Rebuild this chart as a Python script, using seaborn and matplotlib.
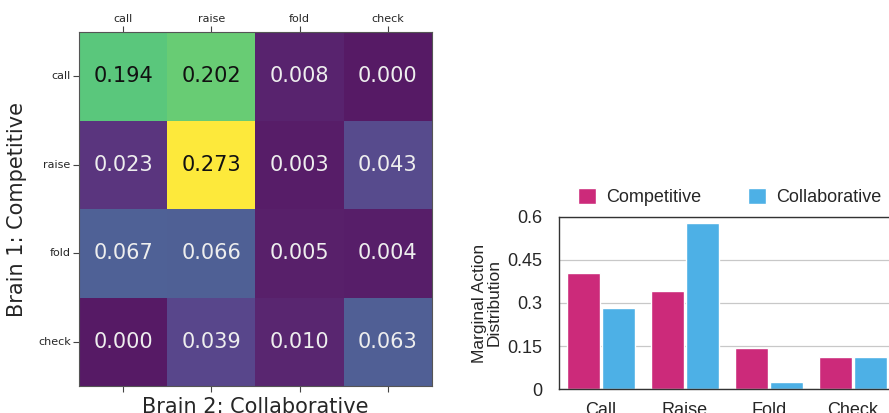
import matplotlib
matplotlib.use("Agg")
import matplotlib.pyplot as plt
import seaborn as sns
import pandas as pd
import numpy as np

# joint action distribution (rows: brain 1, cols: brain 2)
actions = ["call", "raise", "fold", "check"]
row_call = [0.194, 0.202, 0.008, 0.000]
row_raise = [0.023, 0.273, 0.003, 0.043]
row_fold = [0.067, 0.066, 0.005, 0.004]
row_check = [0.000, 0.039, 0.010, 0.063]

# marginal distributions
bar_labels = ["Call", "Raise", "Fold", "Check"]
competitive = [0.404, 0.342, 0.142, 0.112]
collaborative = [0.284, 0.580, 0.026, 0.110]

sns.set_style("white")

fig = plt.figure(figsize=(8.89, 4.13), dpi=100)

# ---- heatmap ----
ax1 = fig.add_axes([0.0889, 0.0654, 0.397, 0.857])
mat = pd.DataFrame([row_call, row_raise, row_fold, row_check], index=actions, columns=actions)
sns.heatmap(mat, ax=ax1, cmap="viridis", alpha=0.9, annot=True, fmt=".3f", cbar=False,
            square=False, annot_kws={"fontsize": 15, "family": "DejaVu Sans"})
vmax = mat.values.max()
for t in ax1.texts:
    v = float(t.get_text())
    t.set_color("#111111" if v > 0.5 * vmax else "#eeeeee")
ax1.xaxis.tick_top()
ax1.tick_params(axis="x", top=True, bottom=True, labeltop=True, labelbottom=False,
                length=4, width=0.8, color="#444444", labelsize=8, pad=2)
ax1.tick_params(axis="y", left=True, length=4, width=0.8, color="#444444", labelsize=8, pad=2)
plt.setp(ax1.get_yticklabels(), rotation=0)
plt.setp(ax1.get_xticklabels(), rotation=0)
for s in ax1.spines.values():
    s.set_visible(True)
    s.set_color("#555555")
    s.set_linewidth(0.8)
ax1.set_xlabel("Brain 2: Collaborative", fontsize=15, labelpad=4)
ax1.set_ylabel("Brain 1: Competitive", fontsize=15, labelpad=8)

# ---- bar chart ----
ax2 = fig.add_axes([0.6288, 0.0581, 0.378, 0.4165])
df = pd.DataFrame({
    "action": bar_labels * 2,
    "value": competitive + collaborative,
    "brain": ["Competitive"] * 4 + ["Collaborative"] * 4,
})
sns.barplot(data=df, x="action", y="value", hue="brain", ax=ax2,
            palette=["#CC2A7A", "#4DB0E6"], width=0.84, gap=0.06, saturation=1)
ax2.set_xlim(-0.5, 3.5)
ax2.set_ylim(0, 0.6)
ax2.set_yticks([0, 0.15, 0.3, 0.45, 0.6])
ax2.set_yticklabels(["0", "0.15", "0.3", "0.45", "0.6"], family="Liberation Sans", fontsize=13)
ax2.set_xticks(range(4))
ax2.set_xticklabels(bar_labels, family="Liberation Sans", fontsize=13)
ax2.tick_params(axis="both", length=0)
ax2.tick_params(axis="x", pad=9)
ax2.tick_params(axis="y", pad=12)
ax2.yaxis.grid(True, color="#c8c8c8", linewidth=0.9)
ax2.set_axisbelow(True)
for side in ["left", "bottom", "top"]:
    ax2.spines[side].set_color("#333333")
    ax2.spines[side].set_linewidth(1.0)
ax2.spines["right"].set_visible(False)
ax2.set_xlabel("")
ax2.set_ylabel("Marginal Action\nDistribution", family="Liberation Sans", fontsize=12.5, labelpad=4,
               linespacing=0.95)
leg = ax2.legend(loc="lower left", bbox_to_anchor=(0.035, 1.02), ncol=2, frameon=False,
                 prop={"family": "Liberation Sans", "size": 13}, handlelength=1.0,
                 handleheight=1.0, handletextpad=0.55, columnspacing=2.6, borderaxespad=0)

fig.savefig("out.png", dpi=100)
